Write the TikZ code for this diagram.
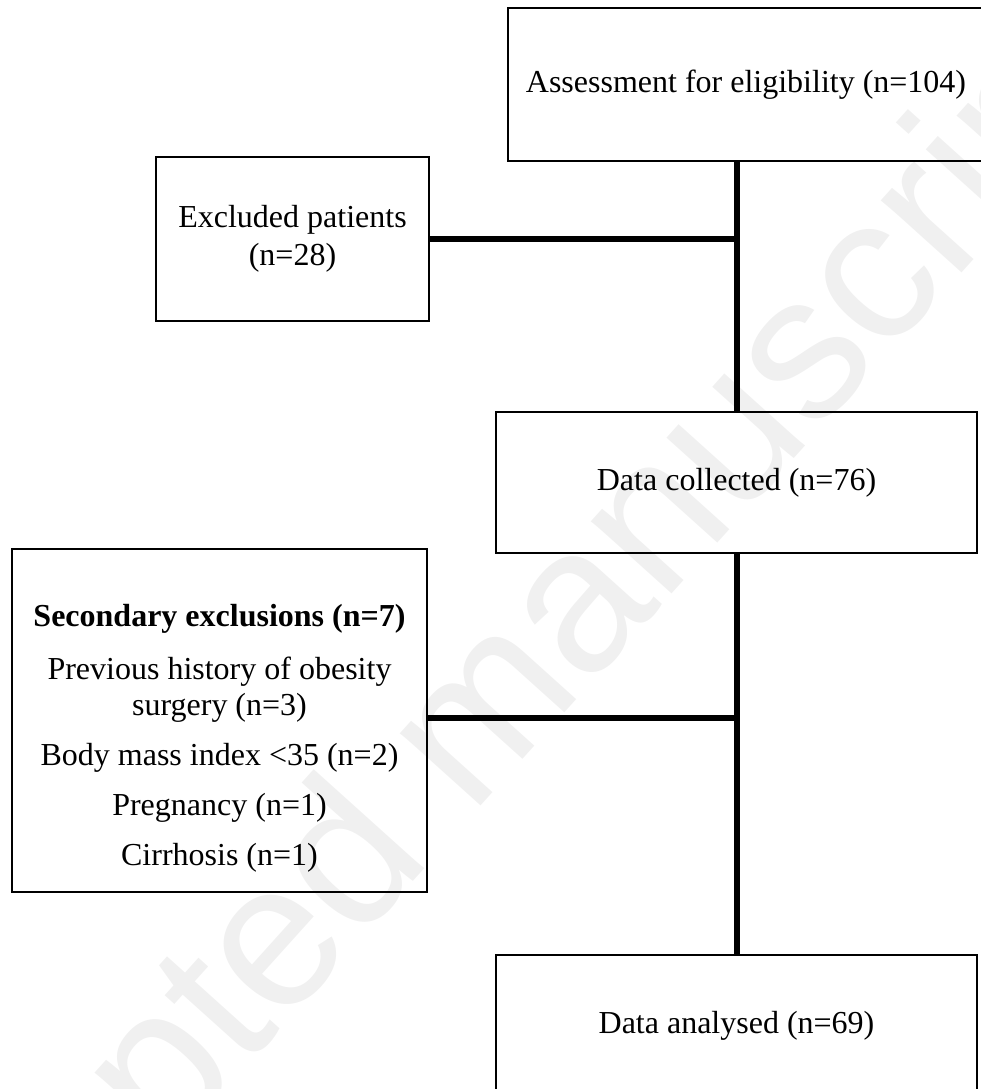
\documentclass[tikz,border=0pt]{standalone}
\usepackage{fontspec}
\setmainfont{Liberation Serif}
\newfontfamily\filigrane{Liberation Sans}
\tikzset{
   boite/.style={draw, line width=2pt, align=center, inner sep=0pt,
      font=\fontsize{32}{36}\selectfont},
   texte/.style={align=center, inner sep=0pt, font=\fontsize{32}{36}\selectfont},
   trait/.style={line width=6pt},
   fond/.style={text=black!6, rotate=48, inner sep=0pt,
      font=\filigrane\fontsize{205}{205}\selectfont}
}
\begin{document}
\begin{tikzpicture}[x=1pt, y=-1pt]
         % Fixer le cadre de l'image
         \useasboundingbox (0,0) rectangle (981,1089);

         % Filigrane en arriere-plan
         \node[fond] (filig) at (463,747) {Accepted manuscript};

         % Dessiner les boites
         \node[boite, minimum width=476pt, minimum height=153pt] (assess) at (746,84.5)
            {Assessment for eligibility (n=104)};
         \node[boite, minimum width=273pt, minimum height=164pt] (excl) at (292.5,239)
            {Excluded patients\\[2pt](n=28)};
         \node[boite, minimum width=481pt, minimum height=141pt] (collect) at (736.5,482.5)
            {Data collected (n=76)};
         \node[boite, minimum width=415pt, minimum height=343pt] (sec) at (219.5,720.5) {};
         \node[texte] (secText) at (219.5,738.5)
            {{\bfseries Secondary exclusions (n=7)}\\[17pt]
             Previous history of obesity\\ surgery (n=3)\\[14pt]
             Body mass index <35 (n=2)\\[14pt]
             Pregnancy (n=1)\\[14pt]
             Cirrhosis (n=1)};
         \node[boite, minimum width=481pt, minimum height=141pt] (analyse) at (736.5,1025.5)
            {Data analysed (n=69)};

         % Tracer les liaisons
         \draw[trait] (assess.south -| collect.north) -- (collect.north);
         \draw[trait] (excl.east) -- (excl.east -| collect.north);
         \draw[trait] (collect.south) -- (analyse.north);
         \draw[trait] ([yshift=3pt]sec.east) -- ([yshift=3pt]sec.east -| collect.south);
      \end{tikzpicture}
\end{document}
